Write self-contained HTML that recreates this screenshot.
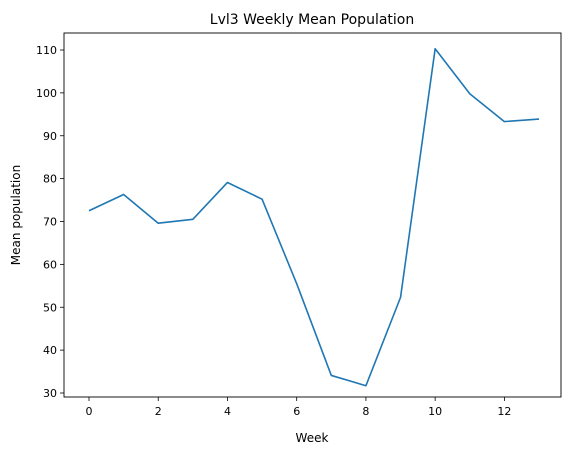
<!DOCTYPE html>
<html><head><meta charset="utf-8"><style>
body{margin:0;background:#fff;}
svg{display:block;font-family:"DejaVu Sans","Liberation Sans",sans-serif;}
</style></head><body>
<svg id="chart" width="571" height="455">
<rect x="0" y="0" width="571" height="455" fill="#fff"/>
<text x="312" y="24" font-size="14" text-anchor="middle">Lvl3 Weekly Mean Population</text>
<g id="ticks"></g>
<rect x="64" y="33" width="497" height="364" fill="none" stroke="#000" stroke-width="0.9"/>
<text x="312" y="442" font-size="12" text-anchor="middle">Week</text>
<text x="20" y="215" font-size="12" text-anchor="middle" transform="rotate(-90 20 215)">Mean population</text>
</svg>
<script>
const weeks=[0,1,2,3,4,5,6,7,8,9,10,11,12,13];
const meanPop=[72.5,76.3,69.6,70.5,79.1,75.2,55.5,34.1,31.7,52.3,110.3,99.8,93.3,93.9];
const xTicks=[0,2,4,6,8,10,12];
const yTicks=[30,40,50,60,70,80,90,100,110];
const NS="http://www.w3.org/2000/svg";
const svg=document.getElementById('chart');
const g=document.getElementById('ticks');
function xs(v){return 89+(v-0)*(539-89)/13;}
function ys(v){return 393-(v-30)*(393-50)/80;}
function mk(tag,attrs){const e=document.createElementNS(NS,tag);for(const k in attrs)e.setAttribute(k,attrs[k]);return e;}
xTicks.forEach(t=>{
 const l=mk('line',{x1:xs(t),x2:xs(t),y1:397,y2:401,stroke:'#000','stroke-width':0.8});
 
 
 g.appendChild(l);
 const tx=mk('text',{x:xs(t),y:415,'font-size':11,'text-anchor':'middle'});
 tx.textContent=t;
 
 
 g.appendChild(tx);
});
yTicks.forEach(t=>{
 const l=mk('line',{x1:60,x2:64,y1:ys(t),y2:ys(t),stroke:'#000','stroke-width':0.8});
 
 
 g.appendChild(l);
 const tx=mk('text',{x:57,y:ys(t)+4,'font-size':11,'text-anchor':'end'});
 tx.textContent=t;
 
 
 g.appendChild(tx);
});
const pts=weeks.map((w,i)=>xs(w)+','+ys(meanPop[i])).join(' ');
const pl=mk('polyline',{points:pts,fill:'none',stroke:'#1f77b4','stroke-width':1.6,'stroke-linejoin':'round'});


svg.appendChild(pl);
</script>
</body></html>
